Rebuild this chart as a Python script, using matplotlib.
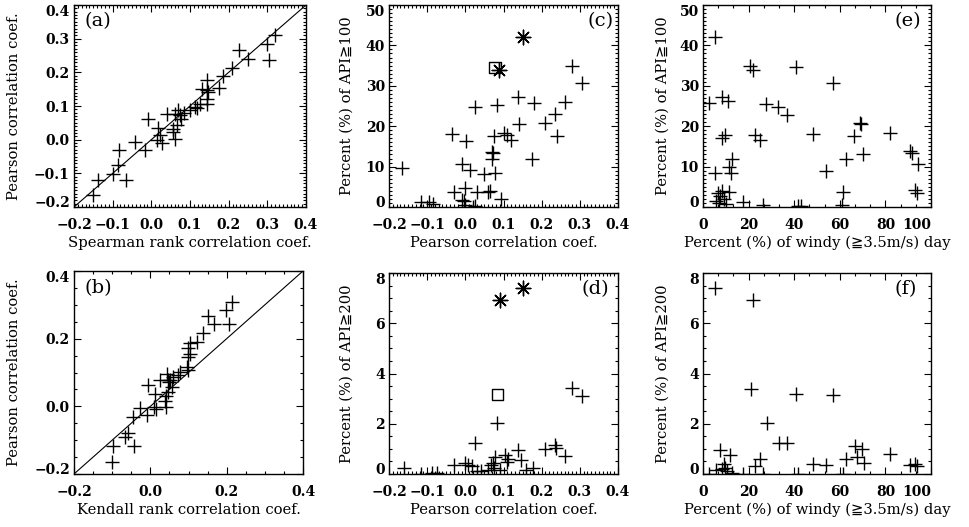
import matplotlib
matplotlib.use("Agg")
import matplotlib.pyplot as plt
from matplotlib.ticker import MultipleLocator

plt.rcParams["font.family"] = ["DejaVu Serif", "DejaVu Sans"]
plt.rcParams["font.size"] = 10
plt.rcParams["font.weight"] = "bold"

# (a) Spearman vs Pearson
spearman_a = [-0.150, -0.137, -0.100, -0.085, -0.066, -0.084, -0.042, -0.016, -0.008, 0.014,
              0.016, 0.022, 0.027, 0.040, 0.057, 0.057, 0.061, 0.061, 0.066, 0.070,
              0.074, 0.078, 0.085, 0.100, 0.113, 0.118, 0.126, 0.130, 0.143, 0.143,
              0.143, 0.143, 0.147, 0.176, 0.186, 0.208, 0.227, 0.251, 0.298, 0.304, 0.320]
pearson_a = [-0.163, -0.121, -0.101, -0.076, -0.121, -0.032, -0.007, -0.032, 0.062, 0.000,
             0.035, 0.013, -0.010, 0.077, 0.023, 0.033, 0.003, 0.077, 0.043, 0.087,
             0.072, 0.062, 0.079, 0.087, 0.097, 0.093, 0.105, 0.151, 0.176, 0.149,
             0.122, 0.107, 0.142, 0.154, 0.188, 0.213, 0.265, 0.241, 0.285, 0.238, 0.312]

# (b) Kendall vs Pearson
kendall_b = [-0.101, -0.097, -0.067, -0.058, -0.043, -0.045, -0.027, -0.008, -0.006, 0.010,
             0.012, 0.016, 0.025, 0.038, 0.040, 0.042, 0.044, 0.047, 0.051, 0.060,
             0.056, 0.073, 0.077, 0.095, 0.099, 0.099, 0.103, 0.099, 0.105, 0.121,
             0.138, 0.151, 0.166, 0.199, 0.206, 0.215, 0.050, 0.045]
pearson_b = [-0.164, -0.117, -0.090, -0.078, -0.117, -0.033, -0.005, -0.026, 0.064, -0.003,
             0.037, -0.008, 0.079, 0.017, 0.030, -0.003, 0.097, 0.079, 0.077, 0.087,
             0.057, 0.092, 0.102, 0.116, 0.106, 0.146, 0.156, 0.171, 0.186, 0.191,
             0.216, 0.266, 0.243, 0.284, 0.243, 0.307, 0.072, 0.043]

# (c) Pearson vs percent of API>=100
pearson_c = [-0.165, -0.117, -0.094, -0.084, -0.036, -0.031, -0.009, 0.002, 0.000, -0.009,
             -0.003, 0.012, 0.025, 0.031, 0.050, 0.060, 0.064, 0.069, 0.073, 0.075,
             0.078, 0.071, 0.082, 0.093, 0.101, 0.110, 0.119, 0.141, 0.139, 0.174,
             0.181, 0.209, 0.234, 0.241, 0.260, 0.279, 0.305, 0.025, 0.020, 0.000]
api100_c = [9.7, 1.15, 1.3, 0.7, 18.1, 3.6, 10.6, 16.4, 4.6, 1.7,
            1.5, 9.2, 24.7, 3.6, 8.1, 3.8, 3.9, 12.0, 13.3, 17.6,
            8.3, 13.5, 25.2, 1.9, 18.2, 17.8, 16.7, 20.5, 27.3, 11.8,
            25.7, 20.9, 22.9, 17.6, 26.1, 34.9, 30.6, 0.3, 0.0, 0.6]

# (d) Pearson vs percent of API>=200
pearson_d = [0.279, 0.305, 0.084, 0.025, 0.209, 0.234, 0.237, 0.261, 0.139, 0.147,
             0.104, 0.113, 0.108, 0.078, 0.073, 0.066, 0.000, 0.008, -0.031, 0.017,
             -0.162, 0.178, -0.088, -0.075, 0.040, 0.031, 0.060, 0.075, 0.090, -0.117, 0.160]
api200_d = [3.41, 3.12, 2.02, 1.22, 0.99, 1.15, 1.05, 0.72, 0.95, 0.56,
            0.76, 0.60, 0.48, 0.69, 0.42, 0.35, 0.42, 0.36, 0.36, 0.30,
            0.23, 0.23, 0.03, 0.03, 0.10, 0.10, 0.15, 0.25, 0.15, 0.00, 0.15]

# highlighted stations in (c) and (d)
star_pearson = [0.087, 0.150]
star_api100 = [34.0, 42.2]
star_pearson_d = [0.091, 0.150]
star_api200 = [6.92, 7.39]
square_pearson = [0.078, 0.084]
square_api = [34.5, 3.17]

# (e) windy days vs API>=100
windy_e = [5.3, 20.6, 21.8, 40.8, 57.2, 2.5, 8.2, 11.1, 27.6, 33.0,
           37.0, 48.4, 66.4, 68.9, 69.3, 82.0, 8.2, 9.6, 22.8, 25.0,
           12.6, 11.5, 12.1, 5.3, 53.9, 62.7, 70.3, 90.8, 91.5, 94.4,
           93.0, 94.0, 61.3, 6.7, 8.2, 11.5, 7.5, 9.0, 5.9, 17.7,
           26.5, 41.8, 43.2, 60.8, 7.0, 10.0]
api100_e = [42.2, 35.0, 33.9, 34.6, 30.6, 25.8, 27.3, 26.2, 25.4, 24.7,
            22.8, 18.1, 17.6, 20.9, 20.6, 18.2, 17.0, 17.8, 17.8, 16.6,
            11.8, 10.0, 8.3, 8.3, 9.0, 11.9, 13.0, 13.9, 13.3, 10.6,
            4.2, 3.5, 3.8, 3.5, 3.9, 3.8, 2.6, 1.9, 1.5, 1.3,
            0.5, 0.3, 0.3, 0.5, 1.0, 0.8]

# (f) windy days vs API>=200
windy_f = [5.3, 21.8, 21.1, 40.8, 56.9, 27.9, 33.5, 37.0, 66.7, 69.6,
           67.4, 70.6, 82.0, 7.5, 11.8, 25.0, 22.8, 48.4, 53.9, 62.7,
           90.8, 93.0, 94.0, 9.0, 9.6, 8.2, 10.5, 5.9, 17.7, 26.5,
           41.8, 61.3, 2.5, 12.6]
api200_f = [7.41, 6.92, 3.37, 3.17, 3.14, 2.02, 1.22, 1.22, 1.13, 0.99,
            0.69, 0.42, 0.80, 0.95, 0.76, 0.60, 0.33, 0.38, 0.36, 0.60,
            0.36, 0.38, 0.33, 0.40, 0.25, 0.20, 0.10, 0.16, 0.0, 0.0,
            0.0, 0.0, 0.0, 0.05]

corr_ticks = [-0.2, -0.1, 0.0, 0.1, 0.2, 0.3, 0.4]
corr_ticks_b = [-0.2, 0.0, 0.2, 0.4]
pct_ticks = [0, 10, 20, 30, 40, 50]
pct200_ticks = [0, 2, 4, 6, 8]
windy_ticks = [0, 20, 40, 60, 80, 100]

W, H = 969, 527
fig = plt.figure(figsize=(W / 100, H / 100), dpi=100)


def make_ax(x0, x1, y0, y1):
    return fig.add_axes([x0 / W, 1 - y1 / H, (x1 - x0) / W, (y1 - y0) / H])


def style(ax, xticks, xminor, yticks, yminor, xlab, ylab, ylab_x, tag, tag_x, tag_y):
    ax.set_xlim(xticks[0], xticks[-1])
    ax.set_ylim(yticks[0], yticks[-1])
    ax.set_xticks(xticks)
    ax.set_yticks(yticks)
    ax.xaxis.set_minor_locator(MultipleLocator(xminor))
    ax.yaxis.set_minor_locator(MultipleLocator(yminor))
    ax.tick_params(which="both", direction="in", top=True, right=True, width=0.8)
    ax.tick_params(which="major", length=5)
    ax.tick_params(which="minor", length=2.5)
    ax.tick_params(axis="x", which="major", pad=8)
    ax.tick_params(axis="y", which="major", pad=3)
    for s in ax.spines.values():
        s.set_linewidth(1.0)
    ax.set_xlabel(xlab, fontsize=10.6)
    ax.set_ylabel(ylab, fontsize=10.6)
    ax.xaxis.set_label_coords(0.5, -0.178)
    ax.xaxis.label.set_va("center")
    ax.yaxis.set_label_coords(ylab_x, 0.5)
    ax.yaxis.label.set_va("center")
    # end labels kept inside the frame
    yt = ax.yaxis.get_major_ticks()
    yt[0].label1.set_va("baseline")
    yt[-1].label1.set_va("top")
    ax.text(tag_x, tag_y, tag, transform=ax.transAxes, fontsize=14,
            fontweight="normal", ha="center", va="center")


plus = dict(marker="+", s=90, c="black", linewidths=1.0)
star = dict(marker=(8, 2, 0), s=110, c="black", linewidths=1.0)
box = dict(marker="s", s=70, facecolors="none", edgecolors="black", linewidths=1.0)

# (a)
ax = make_ax(74, 306, 5, 207)
ax.plot([-0.2, 0.4], [-0.2, 0.4], color="black", lw=0.8)
ax.scatter(spearman_a, pearson_a, **plus)
style(ax, corr_ticks, 0.01, corr_ticks, 0.01, "Spearman rank correlation coef.",
      "Pearson correlation coef.", -0.259, "(a)", 0.105, 0.92)

# (b)
ax = make_ax(74, 303, 271, 474)
ax.plot([-0.2, 0.4], [-0.2, 0.4], color="black", lw=0.8)
ax.scatter(kendall_b, pearson_b, **plus)
style(ax, corr_ticks_b, 0.05, corr_ticks_b, 0.05, "Kendall rank correlation coef.",
      "Pearson correlation coef.", -0.262, "(b)", 0.105, 0.916)

# (c)
ax = make_ax(389, 618, 5, 207)
ax.scatter(pearson_c, api100_c, **plus)
ax.scatter(star_pearson, star_api100, **star)
ax.scatter(square_pearson[:1], square_api[:1], **box)
style(ax, corr_ticks, 0.01, pct_ticks, 1, "Pearson correlation coef.",
      "Percent (%) of API≧100", -0.183, "(c)", 0.926, 0.92)

# (d)
ax = make_ax(389, 618, 273, 474)
ax.scatter(pearson_d, api200_d, **plus)
ax.scatter(star_pearson_d, star_api200, **star)
ax.scatter(square_pearson[1:], square_api[1:], **box)
style(ax, corr_ticks, 0.01, pct200_ticks, 0.5, "Pearson correlation coef.",
      "Percent (%) of API≧200", -0.183, "(d)", 0.9, 0.92)

# (e)
ax = make_ax(703, 931, 5, 207)
ax.scatter(windy_e, api100_e, **plus)
style(ax, windy_ticks, 20 / 3, pct_ticks, 1, "Percent (%) of windy (≧3.5m/s) day",
      "Percent (%) of API≧100", -0.178, "(e)", 0.897, 0.92)
ax.xaxis.get_major_ticks()[-1].label1.set_ha("right")

# (f)
ax = make_ax(703, 931, 273, 474)
ax.scatter(windy_f, api200_f, **plus)
style(ax, windy_ticks, 20 / 3, pct200_ticks, 0.5, "Percent (%) of windy (≧3.5m/s) day",
      "Percent (%) of API≧200", -0.178, "(f)", 0.89, 0.92)
ax.xaxis.get_major_ticks()[-1].label1.set_ha("right")

fig.savefig("out.png", dpi=100)
